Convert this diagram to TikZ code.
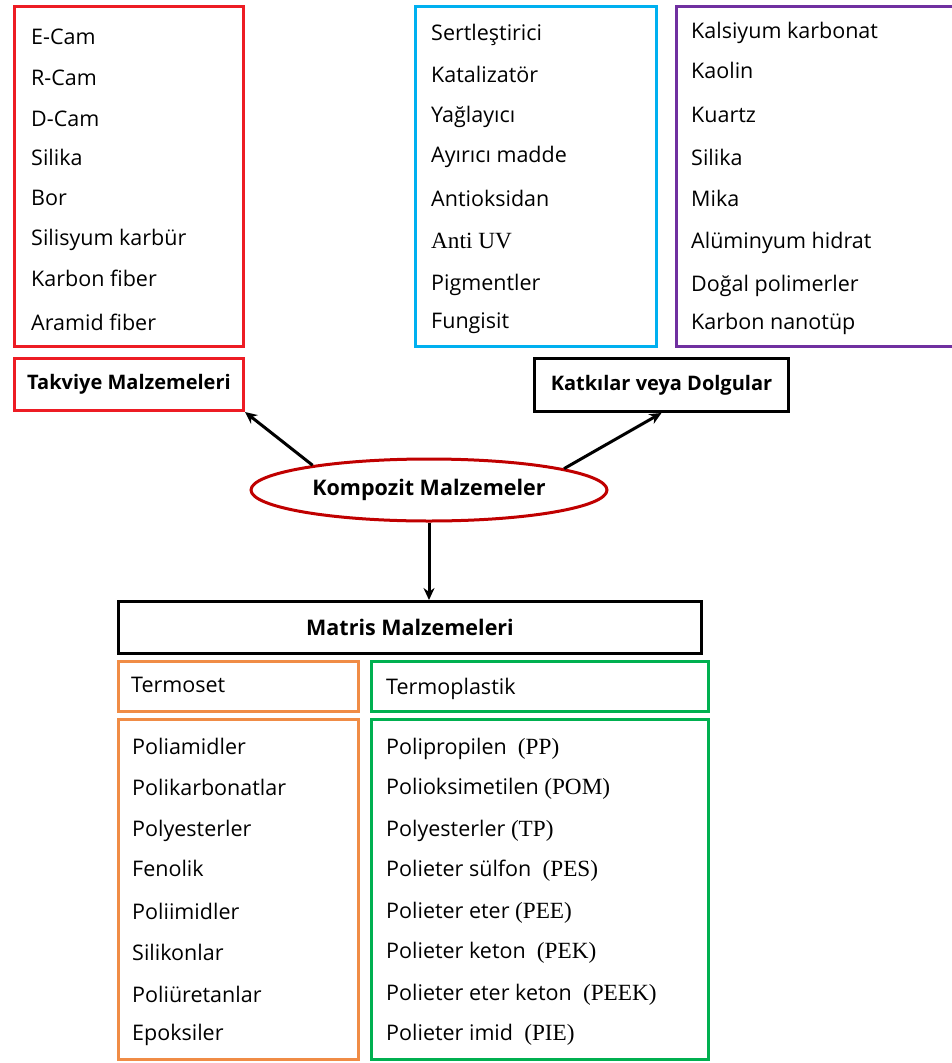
\documentclass[tikz,border=0pt]{standalone}
\usepackage{fontspec}
\setmainfont{Open Sans}
\newfontfamily\tnr[Scale=1.08]{Liberation Serif}
\usetikzlibrary{shapes.geometric,arrows.meta}
\definecolor{kirmizi}{RGB}{237,28,36}
\definecolor{koyukirmizi}{RGB}{192,0,0}
\definecolor{mavi}{RGB}{0,176,240}
\definecolor{mor}{RGB}{112,48,160}
\definecolor{turuncu}{RGB}{240,140,70}
\definecolor{yesil}{RGB}{0,176,80}
\tikzstyle{liste} = [draw, line width=3pt, inner sep=0pt, anchor=north west]
\tikzstyle{madde} = [anchor=west, inner sep=0pt, text height=16pt, text depth=0pt, font=\fontsize{21.5}{24}\selectfont]
\tikzstyle{baslik} = [draw, line width=3pt, inner sep=0pt, anchor=north west, font=\bfseries\fontsize{20}{24}\selectfont]
\tikzstyle{ok} = [line width=3pt, -{Stealth[length=12pt,width=11pt]}]

\begin{document}
\begin{tikzpicture}[x=1pt, y=-1pt]
                \useasboundingbox (0,0) rectangle (951,1063);

                % list boxes on top
                \node (takviyeliste) [liste, kirmizi, minimum width=229pt, minimum height=340pt] at (13,5) {};
                \node (katkiliste) [liste, mavi, minimum width=241pt, minimum height=340pt] at (414,5) {};
                \node (dolguliste) [liste, mor, minimum width=280pt, minimum height=340pt] at (675,5) {};

                \foreach \y/\t [count=\i] in {36/E-Cam, 77/R-Cam, 118/D-Cam, 157/Silika, 197/Bor,
                    237/Silisyum karbür, 278/Karbon fiber, 322/Aramid fiber}
                    \node (tk\i) [madde] at (31,\y) {\t};
                \foreach \y/\t [count=\i] in {32/Sertleştirici, 74/Katalizatör, 114/Yağlayıcı, 154/Ayırıcı madde,
                    198/Antioksidan, 240/{\tnr Anti UV}, 282/Pigmentler, 320/Fungisit}
                    \node (kt\i) [madde] at (431,\y) {\t};
                \foreach \y/\t [count=\i] in {30/Kalsiyum karbonat, 70/Kaolin, 114/Kuartz, 157/Silika, 198/Mika,
                    240/Alüminyum hidrat, 283/Doğal polimerler, 321/Karbon nanotüp}
                    \node (dl\i) [madde] at (691,\y) {\t};

                % titles
                \node (takviye) [baslik, kirmizi, minimum width=229pt, minimum height=52pt] at (13,357)
                    {\textcolor{black}{Takviye Malzemeleri}};
                \node (katki) [baslik, minimum width=254pt, minimum height=53pt] at (533,357) {Katkılar veya Dolgular};
                \node (kompozit) [ellipse, draw=koyukirmizi, line width=3pt, minimum width=356pt, minimum height=62pt,
                    inner sep=0pt, font=\bfseries\fontsize{21.5}{24}\selectfont] at (429,490) {Kompozit Malzemeler};
                \node (matris) [baslik, minimum width=583pt, minimum height=52pt,
                    font=\bfseries\fontsize{21.5}{24}\selectfont] at (117,600) {Matris Malzemeleri};

                \draw [ok] (kompozit.168) -- (takviye.south east);
                \draw [ok] (kompozit.9) -- (katki.south);
                \draw [ok] (kompozit.south) -- (matris.north -| kompozit.south);

                % matrix types
                \node (termoset) [liste, turuncu, minimum width=240pt, minimum height=50pt] at (117,660) {};
                \node (termoplastik) [liste, yesil, minimum width=337pt, minimum height=50pt] at (370,660) {};
                \node (tsad) [madde] at (131,684) {Termoset};
                \node (tpad) [madde] at (386,686) {Termoplastik};

                \node (tsliste) [liste, turuncu, minimum width=240pt, minimum height=340pt] at (117,718) {};
                \node (tpliste) [liste, yesil, minimum width=337pt, minimum height=340pt] at (370,718) {};

                \foreach \y/\t [count=\i] in {746/Poliamidler, 787/Polikarbonatlar, 828/Polyesterler, 868/Fenolik,
                    911/Poliimidler, 952/Silikonlar, 994/Poliüretanlar, 1032/Epoksiler}
                    \node (ts\i) [madde] at (132,\y) {\t};
                \foreach \y/\t [count=\i] in {746/{Polipropilen \ {\tnr(PP)}}, 786/{Polioksimetilen {\tnr(POM)}},
                    828/{Polyesterler {\tnr(TP)}}, 868/{Polieter sülfon \ {\tnr(PES)}}, 910/{Polieter eter {\tnr(PEE)}},
                    950/{Polieter keton \ {\tnr(PEK)}}, 992/{Polieter eter keton \ {\tnr(PEEK)}},
                    1032/{Polieter imid \ {\tnr(PIE)}}}
                    \node (tp\i) [madde] at (386,\y) {\t};
            \end{tikzpicture}
\end{document}
